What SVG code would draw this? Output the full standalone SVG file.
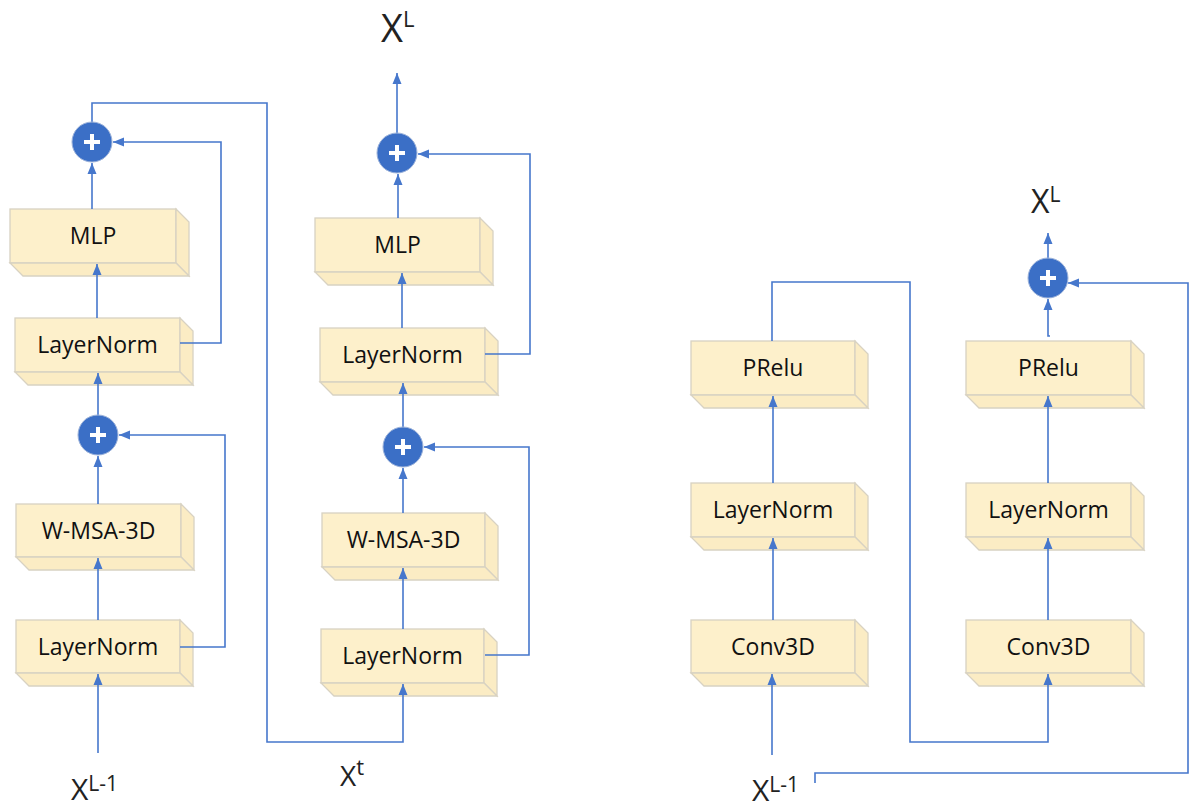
<svg xmlns="http://www.w3.org/2000/svg" width="1192" height="808" viewBox="0 0 1192 808">
<style>
.face{fill:#FDF0CB;stroke:#D8D2C2;stroke-width:1.3}
.bev{fill:#FBECC4;stroke:#D8D2C2;stroke-width:1.3}
.lbl{font-family:"Open Sans","Liberation Sans",sans-serif;font-size:23px;fill:#111;text-anchor:middle}
.ln{fill:none;stroke:#4677CC;stroke-width:1.6}
.arr{marker-end:url(#ah)}
.circ{fill:#3B6FC6;stroke:#9DB3DA;stroke-width:1}
.plus{stroke:#fff;stroke-width:4;stroke-linecap:butt}
.x{font-family:"Open Sans","Liberation Sans",sans-serif;fill:#222}
</style>
<defs>
<marker id="ah" markerUnits="userSpaceOnUse" markerWidth="12" markerHeight="12" viewBox="0 0 12 12" refX="11" refY="6" orient="auto">
<path d="M0,1.5 L11,6 L0,10.5 Z" fill="#4677CC"/>
</marker>
</defs>

<g id="A_MLP"><rect class="face" x="10" y="209" width="166" height="54"/><polygon class="bev" points="176,209 189,222 189,276 176,263"/><polygon class="bev" points="10,263 176,263 189,276 23,276"/><text class="lbl" x="93" y="244">MLP</text></g>
<g id="A_LN2"><rect class="face" x="15" y="318" width="165" height="54"/><polygon class="bev" points="180,318 193,331 193,385 180,372"/><polygon class="bev" points="15,372 180,372 193,385 28,385"/><text class="lbl" x="97.5" y="353">LayerNorm</text></g>
<g id="A_WMSA"><rect class="face" x="16" y="504" width="165" height="53"/><polygon class="bev" points="181,504 194,517 194,570 181,557"/><polygon class="bev" points="16,557 181,557 194,570 29,570"/><text class="lbl" x="98.5" y="538.5">W-MSA-3D</text></g>
<g id="A_LN1"><rect class="face" x="16" y="620" width="164" height="53"/><polygon class="bev" points="180,620 193,633 193,686 180,673"/><polygon class="bev" points="16,673 180,673 193,686 29,686"/><text class="lbl" x="98" y="654.5">LayerNorm</text></g>

<g id="B_MLP"><rect class="face" x="315" y="218" width="165" height="54"/><polygon class="bev" points="480,218 493,231 493,285 480,272"/><polygon class="bev" points="315,272 480,272 493,285 328,285"/><text class="lbl" x="397.5" y="253">MLP</text></g>
<g id="B_LN2"><rect class="face" x="320" y="328" width="165" height="54"/><polygon class="bev" points="485,328 498,341 498,395 485,382"/><polygon class="bev" points="320,382 485,382 498,395 333,395"/><text class="lbl" x="402.5" y="363">LayerNorm</text></g>
<g id="B_WMSA"><rect class="face" x="322" y="513" width="163" height="54"/><polygon class="bev" points="485,513 498,526 498,580 485,567"/><polygon class="bev" points="322,567 485,567 498,580 335,580"/><text class="lbl" x="403.5" y="548">W-MSA-3D</text></g>
<g id="B_LN1"><rect class="face" x="321" y="629" width="163" height="54"/><polygon class="bev" points="484,629 497,642 497,696 484,683"/><polygon class="bev" points="321,683 484,683 497,696 334,696"/><text class="lbl" x="402.5" y="664">LayerNorm</text></g>

<g id="C_PRelu"><rect class="face" x="691" y="341" width="164" height="54"/><polygon class="bev" points="855,341 868,354 868,408 855,395"/><polygon class="bev" points="691,395 855,395 868,408 704,408"/><text class="lbl" x="773" y="376">PRelu</text></g>
<g id="C_LN"><rect class="face" x="691" y="483" width="164" height="54"/><polygon class="bev" points="855,483 868,496 868,550 855,537"/><polygon class="bev" points="691,537 855,537 868,550 704,550"/><text class="lbl" x="773" y="518">LayerNorm</text></g>
<g id="C_Conv"><rect class="face" x="691" y="620" width="164" height="53"/><polygon class="bev" points="855,620 868,633 868,686 855,673"/><polygon class="bev" points="691,673 855,673 868,686 704,686"/><text class="lbl" x="773" y="654.5">Conv3D</text></g>

<g id="D_PRelu"><rect class="face" x="966" y="341" width="165" height="54"/><polygon class="bev" points="1131,341 1144,354 1144,408 1131,395"/><polygon class="bev" points="966,395 1131,395 1144,408 979,408"/><text class="lbl" x="1048.5" y="376">PRelu</text></g>
<g id="D_LN"><rect class="face" x="966" y="483" width="165" height="54"/><polygon class="bev" points="1131,483 1144,496 1144,550 1131,537"/><polygon class="bev" points="966,537 1131,537 1144,550 979,550"/><text class="lbl" x="1048.5" y="518">LayerNorm</text></g>
<g id="D_Conv"><rect class="face" x="966" y="620" width="165" height="53"/><polygon class="bev" points="1131,620 1144,633 1144,686 1131,673"/><polygon class="bev" points="966,673 1131,673 1144,686 979,686"/><text class="lbl" x="1048.5" y="654.5">Conv3D</text></g>

<g id="connectors">
<path class="ln arr" d="M98,753 V674"/>
<path class="ln arr" d="M98,620 V558"/>
<path class="ln arr" d="M98,504 V456"/>
<path class="ln arr" d="M98,415 V373"/>
<path class="ln arr" d="M97,318 V264"/>
<path class="ln arr" d="M92,209 V163"/>
<path class="ln arr" d="M180,647 H225 V435 H119"/>
<path class="ln arr" d="M180,343 H221 V142 H113"/>
<path class="ln arr" d="M92,122 V103 H267 V742 H403 V684"/>
<path class="ln arr" d="M403,629 V568"/>
<path class="ln arr" d="M403,513 V468"/>
<path class="ln arr" d="M403,427 V383"/>
<path class="ln arr" d="M402,328 V273"/>
<path class="ln arr" d="M398,218 V174"/>
<path class="ln arr" d="M397,133 V73"/>
<path class="ln arr" d="M485,655 H529 V447 H424"/>
<path class="ln arr" d="M485,354 H530 V154 H418"/>
<path class="ln arr" d="M772,755 V674"/>
<path class="ln arr" d="M773,620 V538"/>
<path class="ln arr" d="M773,483 V396"/>
<path class="ln arr" d="M772,341 V282 H910 V742 H1048 V674"/>
<path class="ln arr" d="M1048,620 V538"/>
<path class="ln arr" d="M1048,483 V396"/>
<path class="ln arr" d="M1050,336 H1048 V299"/>
<path class="ln arr" d="M1048,258 V233"/>
<path class="ln arr" d="M815,783 V773 H1188 V283 H1068"/>
</g>

<g id="plusA1"><circle class="circ" cx="92" cy="142" r="20"/><path class="plus" d="M84,142 H100 M92,134 V150"/></g>
<g id="plusA2"><circle class="circ" cx="98" cy="435" r="20"/><path class="plus" d="M90,435 H106 M98,427 V443"/></g>
<g id="plusB1"><circle class="circ" cx="397" cy="153" r="20"/><path class="plus" d="M389,153 H405 M397,145 V161"/></g>
<g id="plusB2"><circle class="circ" cx="403" cy="447" r="20"/><path class="plus" d="M395,447 H411 M403,439 V455"/></g>
<g id="plusD"><circle class="circ" cx="1048" cy="278" r="20"/><path class="plus" d="M1040,278 H1056 M1048,270 V286"/></g>

<g id="labels">
<text class="x" x="381" y="42" font-size="38">X<tspan font-size="22" dy="-15">L</tspan></text>
<text class="x" x="71" y="800" font-size="30">X<tspan font-size="21" dy="-9">L-1</tspan></text>
<text class="x" x="340" y="786" font-size="28">X<tspan font-size="22" dy="-11">t</tspan></text>
<text class="x" x="752" y="801" font-size="30">X<tspan font-size="21" dy="-9">L-1</tspan></text>
<text class="x" x="1031" y="213" font-size="32">X<tspan font-size="21" dy="-11">L</tspan></text>
</g>
</svg>
